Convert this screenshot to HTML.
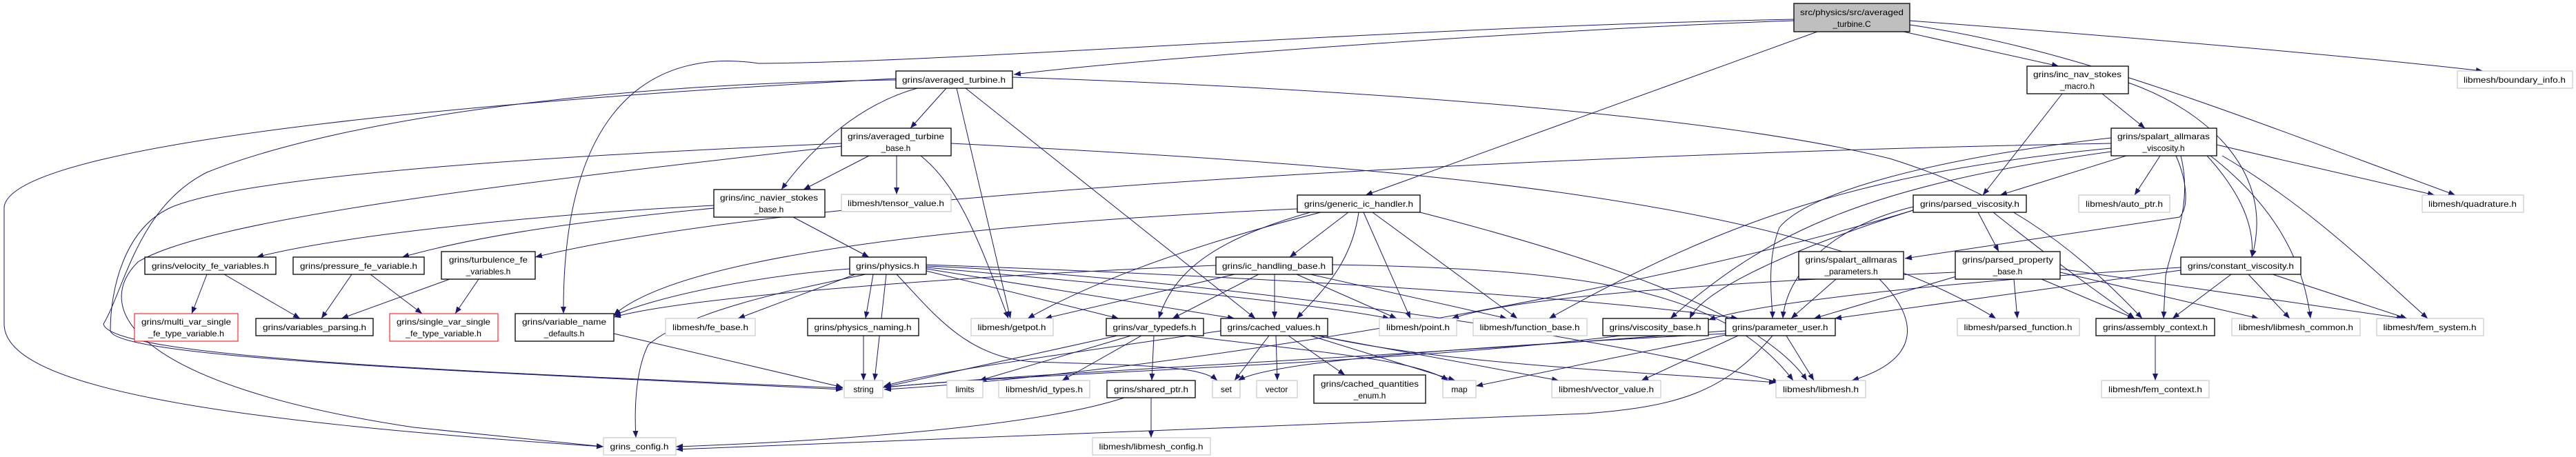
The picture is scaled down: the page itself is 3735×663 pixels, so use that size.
<!DOCTYPE html>
<html><head><meta charset="utf-8"><style>
html,body{margin:0;padding:0;background:#fff;}
svg{display:block;}
text{font-family:"Liberation Sans",sans-serif;font-size:12px;fill:#000;}
.e{fill:none;stroke:#191970;stroke-width:1;marker-end:url(#a);}
.b{fill:#fff;stroke:#000;stroke-width:1.3;}
.g{fill:#fff;stroke:#bfbfbf;stroke-width:1;}
.r{fill:#fff;stroke:#f00;stroke-width:1;}
.m{fill:#bfbfbf;stroke:#000;stroke-width:1.3;}
</style></head><body>
<svg width="3735" height="663" viewBox="0 0 3735 663" xmlns="http://www.w3.org/2000/svg">
<defs><marker id="a" markerWidth="10" markerHeight="8" refX="10" refY="4" orient="auto" markerUnits="userSpaceOnUse"><path d="M0,0 L10,4 L0,8z" fill="#191970"/></marker></defs>
<g>
<!-- main -->
<path class="e" d="M2601,30 C2300,40 1700,80 1470,108"/>
<path class="e" d="M2635,46 L1980,283"/>
<path class="e" d="M2760,46 L2985,96"/>
<path class="e" d="M2769,30 C3100,55 3400,80 3600,103"/>
<path class="e" d="M2769,36 C3000,70 3200,150 3560,283"/>
<path class="e" d="M2601,28 C2000,40 1400,90 1100,92 C950,70 815,150 817,455"/>
<!-- averaged_turbine -->
<path class="e" d="M1372,128 L1320,186"/>
<path class="e" d="M1330,128 C1250,150 1180,210 1133,275"/>
<path class="e" d="M1387,128 L1465,462"/>
<path class="e" d="M1400,128 L1820,462"/>
<path class="e" d="M1468,112 C2000,130 2500,170 2740,230 C2900,280 3000,350 3106,462"/>
<path class="e" d="M1299,116 C900,120 500,170 300,250 C200,300 180,420 150,470 C160,520 700,540 1222,563"/>
<path class="e" d="M1299,114 C800,140 20,200 6,300 L6,470 C6,560 300,610 875,648"/>
<!-- averaged_turbine_base -->
<path class="e" d="M1260,226 L1165,275"/>
<path class="e" d="M1300,226 L1300,282"/>
<path class="e" d="M1335,226 C1390,270 1420,350 1462,462"/>
<path class="e" d="M1379,208 C2000,240 2600,280 2894,462"/>
<path class="e" d="M1220,208 C700,230 350,260 250,300 C180,330 160,420 160,480 C170,520 700,540 1222,565"/>
<path class="e" d="M1220,212 C700,270 300,320 200,380 C130,450 200,560 600,620 L875,648"/>
<!-- inc_navier_stokes_base -->
<path class="e" d="M1035,298 C800,310 500,340 372,373"/>
<path class="e" d="M1035,302 C850,320 700,340 583,373"/>
<path class="e" d="M1150,315 L1260,373"/>
<path class="e" d="M300,398 L278,455"/>
<path class="e" d="M325,398 L435,462"/>
<path class="e" d="M510,398 L466,462"/>
<path class="e" d="M537,398 L612,455"/>
<path class="e" d="M652,405 L495,462"/>
<path class="e" d="M694,405 L660,455"/>
<path class="e" d="M890,484 L1222,562"/>
<path class="e" d="M1252,487 L1252,552"/>
<path class="e" d="M3061,208 C2400,220 1200,270 776,373"/>
<!-- physics -->
<path class="e" d="M1232,390 C1100,400 950,430 890,458"/>
<path class="e" d="M1240,398 L1070,462"/>
<path class="e" d="M1266,398 L1255,462"/>
<path class="e" d="M1343,393 L1622,462"/>
<path class="e" d="M1343,390 L1790,462"/>
<path class="e" d="M1343,388 C1700,420 1900,440 2015,462"/>
<path class="e" d="M1343,386 C1700,400 2300,480 2580,555"/>
<path class="e" d="M1300,398 C1350,450 1400,520 1500,525 C1650,530 1740,530 1765,552"/>
<path class="e" d="M1255,398 C1150,420 1000,450 940,500 C920,540 920,600 922,635"/>
<path class="e" d="M1343,384 C1800,400 2300,430 2520,462"/>
<path class="e" d="M1285,398 L1268,552"/>
<!-- ic_handling_base -->
<path class="e" d="M1790,398 L1515,462"/>
<path class="e" d="M1825,398 L1700,462"/>
<path class="e" d="M1848,398 L1848,462"/>
<path class="e" d="M1880,398 L2025,462"/>
<path class="e" d="M1900,398 L2185,462"/>
<path class="e" d="M1763,385 C1400,400 1000,430 890,460"/>
<path class="e" d="M1932,384 C2300,390 2500,420 2600,552"/>
<!-- generic_ic_handler -->
<path class="e" d="M1955,308 L1870,373"/>
<path class="e" d="M1915,308 C1750,350 1600,400 1490,462"/>
<path class="e" d="M1900,308 C1750,350 1700,400 1680,462"/>
<path class="e" d="M1970,308 C1960,380 1920,420 1880,462"/>
<path class="e" d="M1977,308 L2045,462"/>
<path class="e" d="M1990,308 L2200,462"/>
<path class="e" d="M1881,303 C1500,320 1000,360 890,457"/>
<path class="e" d="M2059,308 C2300,370 2550,450 2620,552"/>
<!-- var_typedefs -->
<path class="e" d="M1620,487 L1280,562"/>
<path class="e" d="M1640,487 L1420,552"/>
<path class="e" d="M1655,487 L1540,552"/>
<path class="e" d="M1673,487 L1670,552"/>
<path class="e" d="M1720,487 C1900,510 2050,520 2100,552"/>
<!-- cached_values -->
<path class="e" d="M1840,487 L1790,552"/>
<path class="e" d="M1850,487 L1852,552"/>
<path class="e" d="M1868,487 L1950,544"/>
<path class="e" d="M1900,487 L2110,552"/>
<path class="e" d="M1910,487 L2260,552"/>
<path class="e" d="M1912,487 C2100,530 2400,540 2575,555"/>
<path class="e" d="M1770,480 C1500,520 1350,540 1282,560"/>
<path class="e" d="M1669,577 L1669,635"/>
<path class="e" d="M1630,577 C1500,620 1200,640 980,648"/>
<path class="e" d="M2350,487 C2000,530 1500,540 1282,562"/>
<!-- parameter_user -->
<path class="e" d="M2502,480 C2000,520 1500,540 1282,562"/>
<path class="e" d="M2502,484 C2200,500 1850,520 1795,552"/>
<path class="e" d="M2502,486 L2140,560"/>
<path class="e" d="M2520,487 L2380,552"/>
<path class="e" d="M2590,487 L2630,552"/>
<path class="e" d="M2570,487 C2500,570 2430,590 2300,600 L980,652"/>
<!-- inc_nav_stokes_macro -->
<path class="e" d="M2990,136 L2875,283"/>
<path class="e" d="M3048,136 L3110,186"/>
<path class="e" d="M3086,120 C3200,160 3300,250 3265,373"/>
<!-- spalart_allmaras_viscosity -->
<path class="e" d="M3083,226 L2900,283"/>
<path class="e" d="M3132,226 L3095,283"/>
<path class="e" d="M3214,210 L3530,283"/>
<path class="e" d="M3200,226 C3240,270 3270,320 3265,373"/>
<path class="e" d="M3162,226 C3180,300 3150,350 3140,400 L3137,462"/>
<path class="e" d="M3205,226 C3300,300 3340,380 3350,462"/>
<path class="e" d="M3222,226 C3350,300 3450,400 3520,462"/>
<path class="e" d="M3155,226 C3170,260 3175,300 3160,315 L2762,375"/>
<path class="e" d="M3061,200 C2800,230 2620,280 2580,330 C2560,380 2570,440 2570,462"/>
<path class="e" d="M3061,215 C2700,250 2500,320 2246,462"/>
<path class="e" d="M3061,220 C2700,270 2560,340 2422,462"/>
<!-- parsed_viscosity -->
<path class="e" d="M2868,308 L2898,365"/>
<path class="e" d="M2774,300 C2650,330 2590,400 2585,462"/>
<path class="e" d="M2890,308 C2980,380 3050,430 3095,462"/>
<path class="e" d="M2774,305 C2600,360 2470,420 2450,462"/>
<path class="e" d="M2774,305 C2400,420 1700,540 1282,565"/>
<!-- parsed_property_base -->
<path class="e" d="M2840,400 L2630,462"/>
<path class="e" d="M2920,405 L2925,462"/>
<path class="e" d="M2960,405 L3095,462"/>
<path class="e" d="M2987,395 L3275,462"/>
<path class="e" d="M2987,390 L3485,462"/>
<path class="e" d="M2835,395 C2500,410 2200,430 2105,462"/>
<!-- spalart params -->
<path class="e" d="M2662,405 L2597,462"/>
<path class="e" d="M2725,405 C2780,460 2790,520 2685,552"/>
<!-- constant viscosity -->
<path class="e" d="M3162,392 L2660,462"/>
<path class="e" d="M3235,398 L3150,462"/>
<path class="e" d="M3260,398 L3320,462"/>
<path class="e" d="M3295,398 L3490,462"/>
<path class="e" d="M3162,388 C2800,410 2550,440 2477,464"/>
<path class="e" d="M3125,487 L3125,552"/>
</g>
<g text-anchor="middle">
<rect class="m" x="2601" y="5" width="168" height="41"/><text x="2685" y="22" textLength="150" lengthAdjust="spacingAndGlyphs">src/physics/src/averaged</text><text x="2685" y="39">_turbine.C</text>
<rect class="b" x="1299" y="103" width="169" height="25"/><text x="1383" y="120" textLength="150" lengthAdjust="spacingAndGlyphs">grins/averaged_turbine.h</text>
<rect class="b" x="1220" y="186" width="159" height="40"/><text x="1299" y="202" textLength="140" lengthAdjust="spacingAndGlyphs">grins/averaged_turbine</text><text x="1299" y="219">_base.h</text>
<rect class="b" x="1035" y="275" width="161" height="40"/><text x="1115" y="291" textLength="142" lengthAdjust="spacingAndGlyphs">grins/inc_navier_stokes</text><text x="1115" y="308">_base.h</text>
<rect class="g" x="1220" y="282" width="159" height="25"/><text x="1299" y="299" textLength="140" lengthAdjust="spacingAndGlyphs">libmesh/tensor_value.h</text>
<rect class="b" x="1881" y="283" width="178" height="25"/><text x="1970" y="300" textLength="158" lengthAdjust="spacingAndGlyphs">grins/generic_ic_handler.h</text>
<rect class="b" x="2939" y="96" width="147" height="40"/><text x="3012" y="112" textLength="128" lengthAdjust="spacingAndGlyphs">grins/inc_nav_stokes</text><text x="3012" y="129">_macro.h</text>
<rect class="g" x="3563" y="103" width="167" height="25"/><text x="3646" y="120" textLength="148" lengthAdjust="spacingAndGlyphs">libmesh/boundary_info.h</text>
<rect class="b" x="3061" y="186" width="153" height="40"/><text x="3137" y="202" textLength="134" lengthAdjust="spacingAndGlyphs">grins/spalart_allmaras</text><text x="3137" y="219">_viscosity.h</text>
<rect class="b" x="2774" y="283" width="164" height="25"/><text x="2856" y="300" textLength="144" lengthAdjust="spacingAndGlyphs">grins/parsed_viscosity.h</text>
<rect class="g" x="3014" y="283" width="132" height="25"/><text x="3080" y="300" textLength="112" lengthAdjust="spacingAndGlyphs">libmesh/auto_ptr.h</text>
<rect class="g" x="3512" y="283" width="147" height="25"/><text x="3585" y="300" textLength="128" lengthAdjust="spacingAndGlyphs">libmesh/quadrature.h</text>
<rect class="b" x="210" y="373" width="190" height="25"/><text x="305" y="390" textLength="170" lengthAdjust="spacingAndGlyphs">grins/velocity_fe_variables.h</text>
<rect class="b" x="425" y="373" width="190" height="25"/><text x="520" y="390" textLength="170" lengthAdjust="spacingAndGlyphs">grins/pressure_fe_variable.h</text>
<rect class="b" x="640" y="365" width="136" height="40"/><text x="708" y="381" textLength="114" lengthAdjust="spacingAndGlyphs">grins/turbulence_fe</text><text x="708" y="398">_variables.h</text>
<rect class="b" x="1232" y="373" width="111" height="25"/><text x="1287" y="390" textLength="92" lengthAdjust="spacingAndGlyphs">grins/physics.h</text>
<rect class="b" x="1763" y="373" width="169" height="25"/><text x="1847" y="390" textLength="150" lengthAdjust="spacingAndGlyphs">grins/ic_handling_base.h</text>
<rect class="b" x="2608" y="365" width="152" height="40"/><text x="2684" y="381" textLength="133" lengthAdjust="spacingAndGlyphs">grins/spalart_allmaras</text><text x="2684" y="398">_parameters.h</text>
<rect class="b" x="2835" y="365" width="152" height="40"/><text x="2911" y="381" textLength="132" lengthAdjust="spacingAndGlyphs">grins/parsed_property</text><text x="2911" y="398">_base.h</text>
<rect class="b" x="3162" y="373" width="174" height="25"/><text x="3249" y="390" textLength="154" lengthAdjust="spacingAndGlyphs">grins/constant_viscosity.h</text>
<rect class="r" x="195" y="455" width="150" height="40"/><text x="270" y="471" textLength="130" lengthAdjust="spacingAndGlyphs">grins/multi_var_single</text><text x="270" y="488" textLength="110" lengthAdjust="spacingAndGlyphs">_fe_type_variable.h</text>
<rect class="b" x="371" y="462" width="170" height="25"/><text x="456" y="479" textLength="150" lengthAdjust="spacingAndGlyphs">grins/variables_parsing.h</text>
<rect class="r" x="565" y="455" width="157" height="40"/><text x="643" y="471" textLength="136" lengthAdjust="spacingAndGlyphs">grins/single_var_single</text><text x="643" y="488" textLength="110" lengthAdjust="spacingAndGlyphs">_fe_type_variable.h</text>
<rect class="b" x="747" y="455" width="143" height="40"/><text x="818" y="471" textLength="122" lengthAdjust="spacingAndGlyphs">grins/variable_name</text><text x="818" y="488">_defaults.h</text>
<rect class="g" x="965" y="462" width="130" height="25"/><text x="1030" y="479" textLength="110" lengthAdjust="spacingAndGlyphs">libmesh/fe_base.h</text>
<rect class="b" x="1171" y="462" width="161" height="25"/><text x="1251" y="479" textLength="141" lengthAdjust="spacingAndGlyphs">grins/physics_naming.h</text>
<rect class="g" x="1408" y="462" width="119" height="25"/><text x="1467" y="479" textLength="99" lengthAdjust="spacingAndGlyphs">libmesh/getpot.h</text>
<rect class="b" x="1604" y="462" width="141" height="25"/><text x="1674" y="479" textLength="121" lengthAdjust="spacingAndGlyphs">grins/var_typedefs.h</text>
<rect class="b" x="1770" y="462" width="155" height="25"/><text x="1847" y="479" textLength="135" lengthAdjust="spacingAndGlyphs">grins/cached_values.h</text>
<rect class="g" x="2000" y="462" width="112" height="25"/><text x="2056" y="479" textLength="92" lengthAdjust="spacingAndGlyphs">libmesh/point.h</text>
<rect class="g" x="2136" y="462" width="165" height="25"/><text x="2218" y="479" textLength="145" lengthAdjust="spacingAndGlyphs">libmesh/function_base.h</text>
<rect class="b" x="2324" y="462" width="153" height="25"/><text x="2400" y="479" textLength="133" lengthAdjust="spacingAndGlyphs">grins/viscosity_base.h</text>
<rect class="b" x="2502" y="462" width="159" height="25"/><text x="2581" y="479" textLength="139" lengthAdjust="spacingAndGlyphs">grins/parameter_user.h</text>
<rect class="g" x="2838" y="462" width="177" height="25"/><text x="2926" y="479" textLength="157" lengthAdjust="spacingAndGlyphs">libmesh/parsed_function.h</text>
<rect class="b" x="3039" y="462" width="172" height="25"/><text x="3125" y="479" textLength="152" lengthAdjust="spacingAndGlyphs">grins/assembly_context.h</text>
<rect class="g" x="3236" y="462" width="186" height="25"/><text x="3329" y="479" textLength="166" lengthAdjust="spacingAndGlyphs">libmesh/libmesh_common.h</text>
<rect class="g" x="3446" y="462" width="155" height="25"/><text x="3523" y="479" textLength="135" lengthAdjust="spacingAndGlyphs">libmesh/fem_system.h</text>
<rect class="g" x="1224" y="552" width="56" height="25"/><text x="1252" y="569">string</text>
<rect class="g" x="1373" y="552" width="52" height="25"/><text x="1399" y="569">limits</text>
<rect class="g" x="1448" y="552" width="132" height="25"/><text x="1514" y="569" textLength="112" lengthAdjust="spacingAndGlyphs">libmesh/id_types.h</text>
<rect class="b" x="1605" y="552" width="128" height="25"/><text x="1669" y="569" textLength="108" lengthAdjust="spacingAndGlyphs">grins/shared_ptr.h</text>
<rect class="g" x="1758" y="552" width="40" height="25"/><text x="1778" y="569">set</text>
<rect class="g" x="1822" y="552" width="59" height="25"/><text x="1851" y="569">vector</text>
<rect class="b" x="1905" y="544" width="162" height="41"/><text x="1986" y="561" textLength="142" lengthAdjust="spacingAndGlyphs">grins/cached_quantities</text><text x="1986" y="578">_enum.h</text>
<rect class="g" x="2092" y="552" width="48" height="25"/><text x="2116" y="569">map</text>
<rect class="g" x="2250" y="552" width="158" height="25"/><text x="2329" y="569" textLength="138" lengthAdjust="spacingAndGlyphs">libmesh/vector_value.h</text>
<rect class="g" x="2575" y="552" width="130" height="25"/><text x="2640" y="569" textLength="110" lengthAdjust="spacingAndGlyphs">libmesh/libmesh.h</text>
<rect class="g" x="3047" y="552" width="156" height="25"/><text x="3125" y="569" textLength="136" lengthAdjust="spacingAndGlyphs">libmesh/fem_context.h</text>
<rect class="g" x="875" y="635" width="105" height="25"/><text x="927" y="652" textLength="85" lengthAdjust="spacingAndGlyphs">grins_config.h</text>
<rect class="g" x="1584" y="635" width="171" height="25"/><text x="1669" y="652" textLength="151" lengthAdjust="spacingAndGlyphs">libmesh/libmesh_config.h</text>
</g>
</svg>
</body></html>
